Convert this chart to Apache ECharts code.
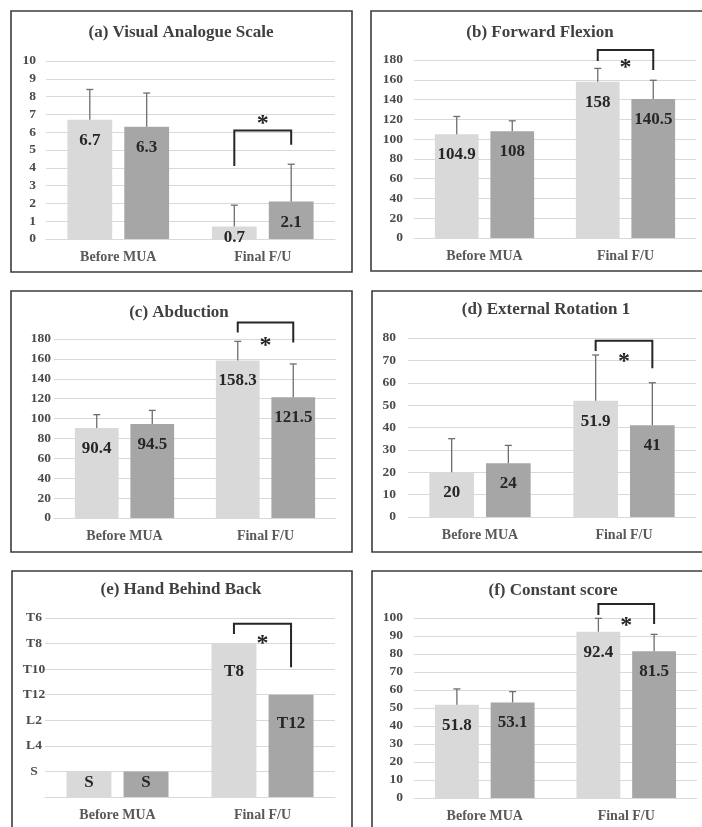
<!DOCTYPE html>
<html><head><meta charset="utf-8">
<script src="https://cdn.jsdelivr.net/npm/echarts@6/dist/echarts.min.js"></script>
<style>html,body{margin:0;padding:0;background:#fff}#c{width:702px;height:827px}</style>
</head><body><div id="c"></div>
<script>
// ---------- data ----------
const categories = ['Before MUA', 'Final F/U'];
const panelTitles = ['(a) Visual Analogue Scale', '(b) Forward Flexion', '(c) Abduction',
  '(d) External Rotation 1', '(e) Hand Behind Back', '(f) Constant score'];

// (a) Visual Analogue Scale
const vasLight = [6.7, 0.7];
const vasDark = [6.3, 2.1];
const vasLightSD = [1.7, 1.2];
const vasDarkSD = [1.9, 2.1];
const vasBracket = [4.1, 6.1, 5.3, 6.75]; // left end, top, right end, star

// (b) Forward Flexion
const ffLight = [104.9, 158];
const ffDark = [108, 140.5];
const ffLightSD = [18, 13.5];
const ffDarkSD = [10.5, 19];
const ffBracket = [179, 190, 170, 177];

// (c) Abduction
const abLight = [90.4, 158.3];
const abDark = [94.5, 121.5];
const abLightSD = [13.5, 19.3];
const abDarkSD = [13.7, 33.4];
const abBracket = [186.6, 196.7, 176.6, 178];

// (d) External Rotation 1
const erLight = [20, 51.9];
const erDark = [24, 41];
const erLightSD = [15, 20.5];
const erDarkSD = [8, 19];
const erBracket = [74.2, 78.8, 66.5, 71.6];

// (e) Hand Behind Back (ordinal levels)
const hbbTicks = ['', 'S', 'L4', 'L2', 'T12', 'T10', 'T8', 'T6'];
const hbbLight = [1, 6];
const hbbDark = [1, 4];
const hbbBracket = [6.37, 6.78, 5.07, 6.2];

// (f) Constant score
const csLight = [51.8, 92.4];
const csDark = [53.1, 81.5];
const csLightSD = [8.8, 7.4];
const csDarkSD = [6, 9.4];
const csBracket = [101.7, 107.8, 96.7, 98.5];

// ---------- layout / style ----------
const FONT = "'Liberation Serif','Times New Roman',serif";
const LIGHT = '#d9d9d9', DARK = '#a6a6a6';
const BAR_W = 0.31, BAR_GAP = 0.27;

const panels = [
  {light: vasLight, dark: vasDark, lsd: vasLightSD, dsd: vasDarkSD, br: vasBracket, max: 10, interval: 1,
   grid: {left: 46, top: 61, width: 289, height: 178}, title: [181, 33], box: [11, 11, 352, 272], ym: 10, dist: 12},
  {light: ffLight, dark: ffDark, lsd: ffLightSD, dsd: ffDarkSD, br: ffBracket, max: 180, interval: 20,
   grid: {left: 414, top: 60, width: 282, height: 178}, title: [540, 33], box: [371, 11, 705, 271], ym: 11, dist: 12},
  {light: abLight, dark: abDark, lsd: abLightSD, dsd: abDarkSD, br: abBracket, max: 180, interval: 20,
   grid: {left: 54, top: 339, width: 282, height: 179}, title: [179, 313], box: [11, 291, 352, 552], ym: 3, dist: 12},
  {light: erLight, dark: erDark, lsd: erLightSD, dsd: erDarkSD, br: erBracket, max: 80, interval: 10,
   grid: {left: 408, top: 338, width: 288, height: 179}, title: [546, 310], box: [372, 291, 705, 552], ym: 12, dist: 12},
  {light: hbbLight, dark: hbbDark, lsd: null, dsd: null, br: hbbBracket, max: 7, interval: 1, ticks: hbbTicks,
   grid: {left: 45, top: 618, width: 290, height: 179}, title: [181, 590], box: [12, 571, 352, 840], ym: 11, dist: 20},
  {light: csLight, dark: csDark, lsd: csLightSD, dsd: csDarkSD, br: csBracket, max: 100, interval: 10,
   grid: {left: 414, top: 618, width: 283, height: 180}, title: [553, 591], box: [372, 571, 705, 840], ym: 11, dist: 12}
];

function barOffset(api) {
  const band = api.size([1, 0])[0];
  const w = band * BAR_W, g = w * BAR_GAP;
  return (w + g) / 2;
}
function errRender(sign) {
  return function (params, api) {
    const idx = api.value(0), mean = api.value(1), top = api.value(2);
    const off = sign * barOffset(api);
    const p0 = api.coord([idx, mean]), p1 = api.coord([idx, top]);
    const x = p0[0] + off;
    const st = {stroke: '#6e6e6e', lineWidth: 1.3};
    return {type: 'group', children: [
      {type: 'line', shape: {x1: x, y1: p0[1], x2: x, y2: p1[1]}, style: st},
      {type: 'line', shape: {x1: x - 3.5, y1: p1[1], x2: x + 3.5, y2: p1[1]}, style: st}
    ]};
  };
}
function bracketRender(params, api) {
  const idx = api.value(0);
  const off = barOffset(api);
  const c = api.coord([idx, api.value(2)]);
  const xL = c[0] - off, xR = c[0] + off;
  const yL = api.coord([idx, api.value(1)])[1];
  const yT = c[1];
  const yR = api.coord([idx, api.value(3)])[1];
  const yS = api.coord([idx, api.value(4)])[1];
  return {type: 'group', children: [
    {type: 'polyline', shape: {points: [[xL, yL], [xL, yT], [xR, yT], [xR, yR]]},
     style: {stroke: '#262626', lineWidth: 2, fill: 'none'}},
    {type: 'text', x: (xL + xR) / 2, y: yS + 5,
     style: {text: '*', font: 'bold 24px ' + FONT, fill: '#262626', align: 'center', verticalAlign: 'middle'}}
  ]};
}

const grids = [], xAxes = [], yAxes = [], series = [], graphics = [];
panels.forEach((p, i) => {
  grids.push(Object.assign({}, p.grid));
  xAxes.push({type: 'category', gridIndex: i, data: categories,
    axisLine: {lineStyle: {color: '#d9d9d9', width: 1}}, axisTick: {show: false},
    axisLabel: {margin: 11, color: '#595959', fontFamily: FONT, fontWeight: 'bold', fontSize: 14}});
  const yLabel = {margin: p.ym, color: '#4a4a4a', fontFamily: FONT, fontWeight: 'bold', fontSize: 13.5};
  if (p.ticks) {
    yLabel.formatter = v => p.ticks[v] || '';
    yLabel.align = 'center';
    yLabel.margin = 11;
  }
  yAxes.push({type: 'value', gridIndex: i, min: 0, max: p.max, interval: p.interval,
    axisLine: {show: false}, axisTick: {show: false},
    splitLine: {lineStyle: {color: '#d9d9d9', width: 1}}, axisLabel: yLabel});

  const fmt = p.ticks ? (prm => p.ticks[prm.value]) : (prm => String(prm.value));
  const mk = (vals) => vals.map(v => ({value: v,
    label: {distance: (v / p.max < 0.2) ? 3 : p.dist}}));
  const labelCfg = {show: true, position: 'insideTop', formatter: fmt, color: '#262626',
    fontFamily: FONT, fontWeight: 'bold', fontSize: 17};
  series.push({type: 'bar', xAxisIndex: i, yAxisIndex: i, data: mk(p.light), barWidth: (BAR_W * 100) + '%',
    barGap: (BAR_GAP * 100) + '%', itemStyle: {color: LIGHT}, label: labelCfg, silent: true});
  series.push({type: 'bar', xAxisIndex: i, yAxisIndex: i, data: mk(p.dark), barWidth: (BAR_W * 100) + '%',
    barGap: (BAR_GAP * 100) + '%', itemStyle: {color: DARK}, label: labelCfg, silent: true});
  if (p.lsd) {
    series.push({type: 'custom', xAxisIndex: i, yAxisIndex: i, renderItem: errRender(-1), z: 5, silent: true,
      data: p.light.map((v, k) => [k, v, v + p.lsd[k]])});
    series.push({type: 'custom', xAxisIndex: i, yAxisIndex: i, renderItem: errRender(1), z: 5, silent: true,
      data: p.dark.map((v, k) => [k, v, v + p.dsd[k]])});
  }
  series.push({type: 'custom', xAxisIndex: i, yAxisIndex: i, renderItem: bracketRender, z: 6, silent: true, clip: false,
    data: [[1, p.br[0], p.br[1], p.br[2], p.br[3]]]});

  graphics.push({type: 'rect', shape: {x: p.box[0], y: p.box[1], width: p.box[2] - p.box[0], height: p.box[3] - p.box[1]},
    style: {fill: 'none', stroke: '#3c3c3c', lineWidth: 1.6}, silent: true});
  graphics.push({type: 'text', x: p.title[0], y: p.title[1], silent: true,
    style: {text: panelTitles[i], font: 'bold 17px ' + FONT, fill: '#404040', align: 'center', verticalAlign: 'middle'}});
});

const chart = echarts.init(document.getElementById('c'), null, {renderer: 'canvas'});
chart.setOption({
  animation: false,
  backgroundColor: '#fff',
  grid: grids, xAxis: xAxes, yAxis: yAxes, series: series, graphic: graphics
});
</script></body></html>
